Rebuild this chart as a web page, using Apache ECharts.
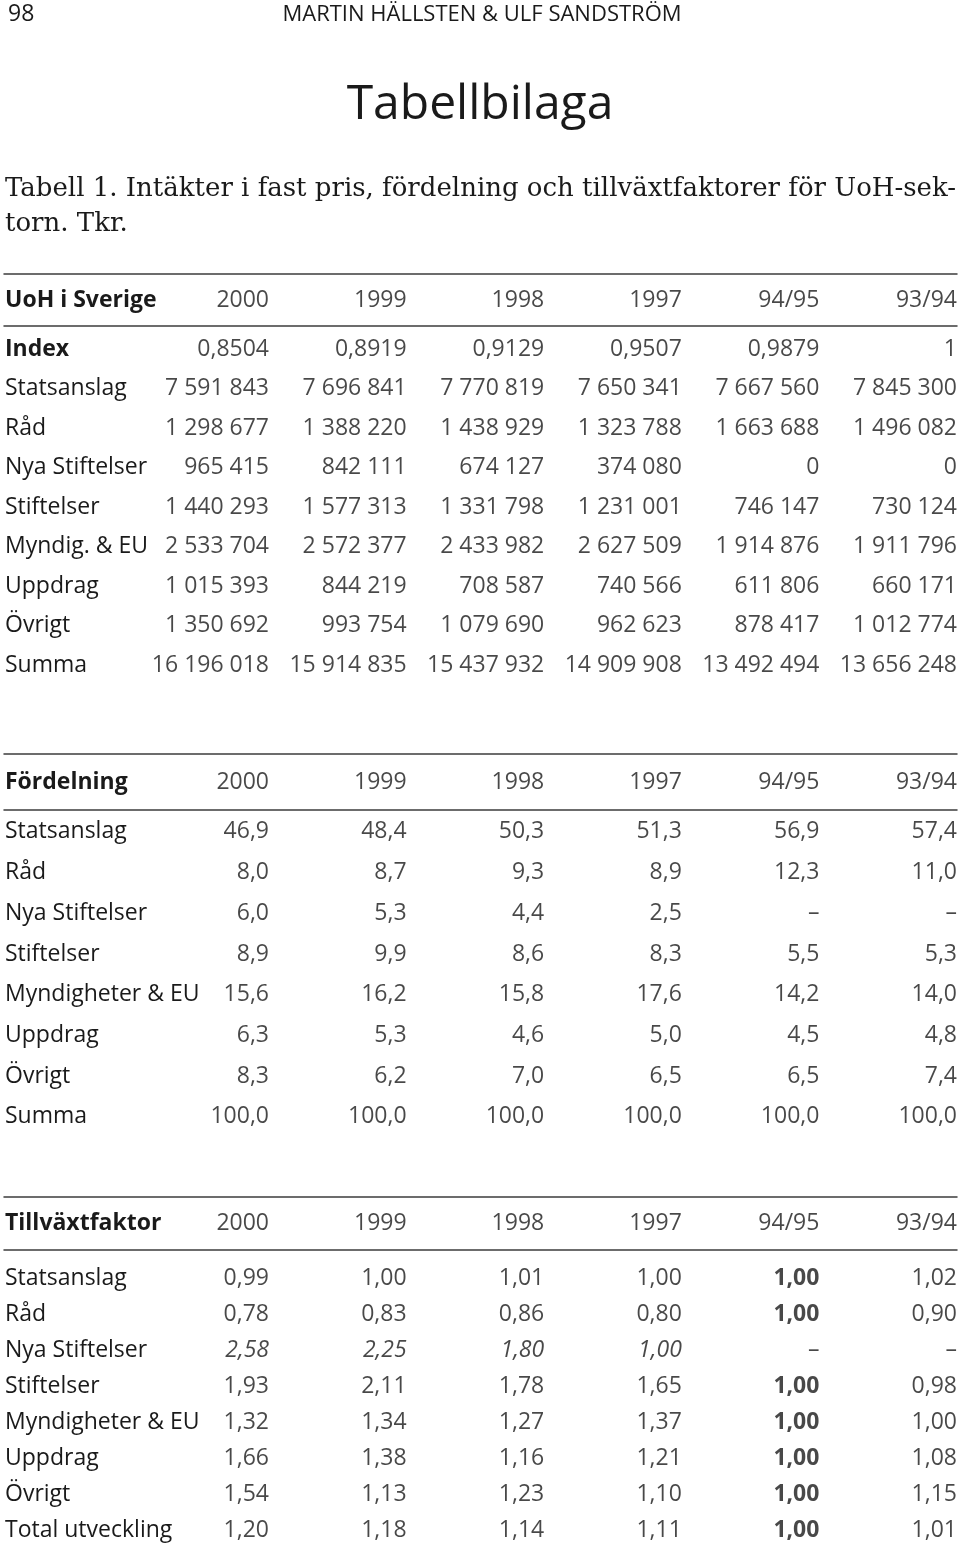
<!DOCTYPE html>
<html><head><meta charset="utf-8">
<script src="https://cdn.jsdelivr.net/npm/echarts@6/dist/echarts.min.js"></script>
<style>html,body{margin:0;padding:0;background:#fff}#c{width:960px;height:1548px}</style>
</head><body><div id="c"></div>
<script>
// ---------- data ----------
const years = ['2000', '1999', '1998', '1997', '94/95', '93/94'];

// Table 1: Intäkter i fast pris (Tkr)
const t1Title = 'UoH i Sverige';
const t1Rows = ['Index', 'Statsanslag', 'Råd', 'Nya Stiftelser', 'Stiftelser', 'Myndig. & EU', 'Uppdrag', 'Övrigt', 'Summa'];
const t1Index = [0.8504, 0.8919, 0.9129, 0.9507, 0.9879, 1];
const t1Statsanslag = [7591843, 7696841, 7770819, 7650341, 7667560, 7845300];
const t1Rad = [1298677, 1388220, 1438929, 1323788, 1663688, 1496082];
const t1NyaStiftelser = [965415, 842111, 674127, 374080, 0, 0];
const t1Stiftelser = [1440293, 1577313, 1331798, 1231001, 746147, 730124];
const t1MyndigEU = [2533704, 2572377, 2433982, 2627509, 1914876, 1911796];
const t1Uppdrag = [1015393, 844219, 708587, 740566, 611806, 660171];
const t1Ovrigt = [1350692, 993754, 1079690, 962623, 878417, 1012774];
const t1Summa = [16196018, 15914835, 15437932, 14909908, 13492494, 13656248];

// Table 2: Fördelning (%)
const t2Title = 'Fördelning';
const t2Rows = ['Statsanslag', 'Råd', 'Nya Stiftelser', 'Stiftelser', 'Myndigheter & EU', 'Uppdrag', 'Övrigt', 'Summa'];
const t2Statsanslag = [46.9, 48.4, 50.3, 51.3, 56.9, 57.4];
const t2Rad = [8.0, 8.7, 9.3, 8.9, 12.3, 11.0];
const t2NyaStiftelser = [6.0, 5.3, 4.4, 2.5, null, null];
const t2Stiftelser = [8.9, 9.9, 8.6, 8.3, 5.5, 5.3];
const t2Myndigheter = [15.6, 16.2, 15.8, 17.6, 14.2, 14.0];
const t2Uppdrag = [6.3, 5.3, 4.6, 5.0, 4.5, 4.8];
const t2Ovrigt = [8.3, 6.2, 7.0, 6.5, 6.5, 7.4];
const t2Summa = [100.0, 100.0, 100.0, 100.0, 100.0, 100.0];

// Table 3: Tillväxtfaktor
const t3Title = 'Tillväxtfaktor';
const t3Rows = ['Statsanslag', 'Råd', 'Nya Stiftelser', 'Stiftelser', 'Myndigheter & EU', 'Uppdrag', 'Övrigt', 'Total utveckling'];
const t3Statsanslag = [0.99, 1.00, 1.01, 1.00, 1.00, 1.02];
const t3Rad = [0.78, 0.83, 0.86, 0.80, 1.00, 0.90];
const t3NyaStiftelser = [2.58, 2.25, 1.80, 1.00, null, null];
const t3Stiftelser = [1.93, 2.11, 1.78, 1.65, 1.00, 0.98];
const t3Myndigheter = [1.32, 1.34, 1.27, 1.37, 1.00, 1.00];
const t3Uppdrag = [1.66, 1.38, 1.16, 1.21, 1.00, 1.08];
const t3Ovrigt = [1.54, 1.13, 1.23, 1.10, 1.00, 1.15];
const t3Total = [1.20, 1.18, 1.14, 1.11, 1.00, 1.01];

// ---------- formatting ----------
const SANS = "'Open Sans', sans-serif";
const SERIF = "'DejaVu Serif', serif";
const INK = '#1a1a1a';
const RULE = '#3c3c3c';
const FS = 23;

function fmtThousands(v) { return String(v).replace(/\B(?=(\d{3})+(?!\d))/g, ' '); }
function fmtDec(v, d) {
  if (v == null) return '\u2013';
  if (d === 'auto') return Number.isInteger(v) ? String(v) : v.toFixed(4).replace('.', ',');
  return v.toFixed(d).replace('.', ',');
}

const tables = [
  { title: t1Title, rows: t1Rows,
    values: [t1Index, t1Statsanslag, t1Rad, t1NyaStiftelser, t1Stiftelser, t1MyndigEU, t1Uppdrag, t1Ovrigt, t1Summa],
    fmt: (v, r) => r === 0 ? fmtDec(v, 'auto') : fmtThousands(v),
    boldRows: ['Index'],
    headTop: 274, headH: 52, bodyTop: 329.25, rowH: 39.5 },
  { title: t2Title, rows: t2Rows,
    values: [t2Statsanslag, t2Rad, t2NyaStiftelser, t2Stiftelser, t2Myndigheter, t2Uppdrag, t2Ovrigt, t2Summa],
    fmt: (v) => fmtDec(v, 1),
    boldRows: [],
    headTop: 754, headH: 56, bodyTop: 811.6, rowH: 40.7 },
  { title: t3Title, rows: t3Rows,
    values: [t3Statsanslag, t3Rad, t3NyaStiftelser, t3Stiftelser, t3Myndigheter, t3Uppdrag, t3Ovrigt, t3Total],
    fmt: (v) => fmtDec(v, 2),
    boldRows: [],
    italicRow: 'Nya Stiftelser', boldCol: '94/95',
    headTop: 1197, headH: 53, bodyTop: 1260, rowH: 36.3 }
];

const X_MIN = -0.926, X_MAX = 6;
const GRID_LEFT = 4, GRID_RIGHT = 3;

const grid = [], xAxis = [], yAxis = [], series = [];

function labelAxis(names, boldSet) {
  return {
    show: true, position: 'left',
    axisLine: { show: false }, axisTick: { show: false }, splitLine: { show: false },
    axisLabel: {
      show: true, inside: true, align: 'left', margin: 1, interval: 0,
      fontFamily: SANS, fontSize: FS, color: INK,
      formatter: v => boldSet.indexOf(v) >= 0 ? '{b|' + v + '}' : v,
      rich: { b: { fontFamily: SANS, fontSize: FS, color: INK, fontWeight: 'bold' } }
    }
  };
}

tables.forEach((t, ti) => {
  const hg = grid.length;
  grid.push({ left: GRID_LEFT, right: GRID_RIGHT, top: t.headTop, height: t.headH });
  const bg = grid.length;
  grid.push({ left: GRID_LEFT, right: GRID_RIGHT, top: t.bodyTop, height: t.rowH * t.rows.length });

  const ruleAxis = pos => ({
    type: 'value', gridIndex: hg, position: pos, min: X_MIN, max: X_MAX,
    axisLine: { show: true, onZero: false, lineStyle: { color: RULE, width: 1.5 } },
    axisTick: { show: false }, axisLabel: { show: false }, splitLine: { show: false }
  });
  const hx = xAxis.length; xAxis.push(ruleAxis('top'));
  xAxis.push(ruleAxis('bottom'));
  const bx = xAxis.length;
  xAxis.push({ type: 'value', gridIndex: bg, min: X_MIN, max: X_MAX, show: false, splitLine: { show: false } });

  const hy = yAxis.length;
  yAxis.push(Object.assign({ type: 'category', gridIndex: hg, data: [t.title], inverse: true }, labelAxis([t.title], [t.title])));
  const by = yAxis.length;
  yAxis.push(Object.assign({ type: 'category', gridIndex: bg, data: t.rows, inverse: true }, labelAxis(t.rows, t.boldRows)));

  const lbl = { show: true, position: 'left', distance: 0, formatter: p => p.name,
                fontFamily: SANS, fontSize: FS, color: INK };

  series.push({
    type: 'scatter', xAxisIndex: hx, yAxisIndex: hy, symbolSize: 0, silent: true, clip: false,
    label: lbl,
    data: years.map((y, i) => ({ name: y, value: [i + 1, 0] }))
  });

  const cells = [];
  t.rows.forEach((rn, r) => {
    t.values[r].forEach((v, c) => {
      const item = { name: t.fmt(v, r), value: [c + 1, r] };
      const extra = {};
      if (v != null && t.italicRow === rn) extra.fontStyle = 'italic';
      if (v != null && t.boldCol === years[c]) extra.fontWeight = 'bold';
      if (Object.keys(extra).length) item.label = extra;
      cells.push(item);
    });
  });
  series.push({
    type: 'scatter', xAxisIndex: bx, yAxisIndex: by, symbolSize: 0, silent: true, clip: false,
    label: lbl, data: cells
  });
});

const chart = echarts.init(document.getElementById('c'), null, { renderer: 'canvas' });
chart.setOption({
  backgroundColor: '#ffffff',
  animation: false,
  grid, xAxis, yAxis, series,
  graphic: [
    { type: 'text', x: 8, y: 14, style: { text: '98', fontFamily: SANS, fontSize: 23, fill: INK, align: 'left', verticalAlign: 'middle' } },
    { type: 'text', x: 482, y: 15, style: { text: 'MARTIN HÄLLSTEN & ULF SANDSTRÖM', fontFamily: SANS, fontSize: 22, fill: INK, align: 'center', verticalAlign: 'middle' } },
    { type: 'text', x: 480, y: 105, style: { text: 'Tabellbilaga', fontFamily: SANS, fontSize: 48, fill: INK, align: 'center', verticalAlign: 'middle' } },
    { type: 'text', x: 5, y: 189, style: { text: 'Tabell 1. Intäkter i fast pris, fördelning och tillväxtfaktorer för UoH-sek-', fontFamily: SERIF, fontSize: 26, fill: INK, align: 'left', verticalAlign: 'middle' } },
    { type: 'text', x: 5, y: 224, style: { text: 'torn. Tkr.', fontFamily: SERIF, fontSize: 26, fill: INK, align: 'left', verticalAlign: 'middle' } }
  ]
});
</script>
</body></html>
